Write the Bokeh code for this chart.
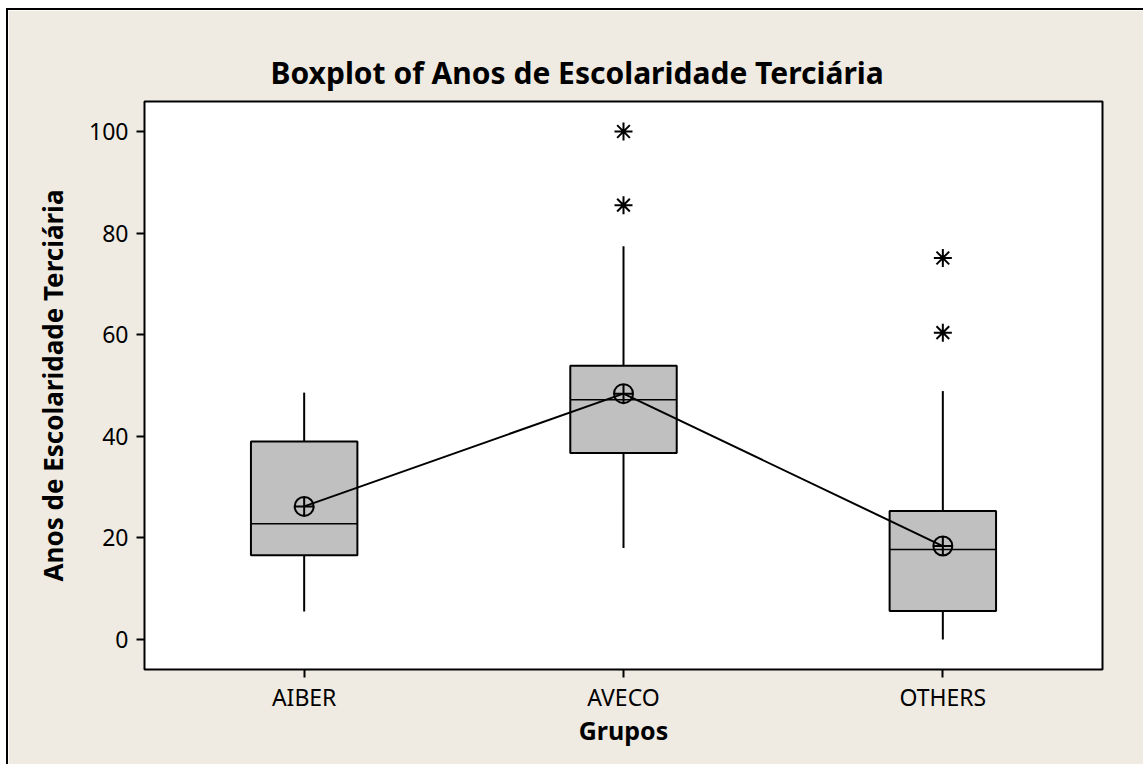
from bokeh.plotting import figure
from bokeh.models import FactorRange, Range1d, FixedTicker, ColumnDataSource
from bokeh.transform import dodge
from bokeh.embed import file_html
from bokeh.resources import INLINE

groups = ["AIBER", "AVECO", "OTHERS"]
q1 = [16.6, 36.7, 5.6]
medians = [22.8, 47.2, 17.7]
q3 = [39.0, 53.9, 25.3]
whisker_low = [5.5, 18.0, 0.0]
whisker_high = [48.6, 77.4, 48.9]
means = [26.2, 48.4, 18.4]
outlier_groups = ["AVECO", "AVECO", "OTHERS", "OTHERS"]
outlier_values = [100.0, 85.5, 75.1, 60.4]
y_ticks = [0, 20, 40, 60, 80, 100]

BG = "#EFEBE2"
FONT = "Noto Sans"

p = figure(
    width=1137, height=756,
    x_range=FactorRange(factors=groups, range_padding=0),
    y_range=Range1d(-5.9, 105.9),
    output_backend="svg", toolbar_location=None,
    min_border_left=136, min_border_right=43, min_border_top=91, min_border_bottom=97,
)
p.styles = {"border-left": "2px solid black", "border-top": "2px solid black",
            "margin-left": "6px", "margin-top": "8px"}
p.background_fill_color = "white"
p.border_fill_color = BG
p.outline_line_color = "black"
p.outline_line_width = 2
p.grid.visible = False

p.title.text = "Boxplot of Anos de Escolaridade Terciária"
p.title.align = "left"
p.title.offset = 126
p.title.text_font = FONT
p.title.text_font_size = "30px"
p.title.text_font_style = "bold"
p.title.text_color = "black"
p.title.standoff = 17

for ax in (p.xaxis, p.yaxis):
    ax.axis_line_color = None
    ax.major_tick_line_color = "black"
    ax.major_tick_line_width = 2
    ax.major_tick_out = 8
    ax.major_tick_in = 0
    ax.minor_tick_line_color = None
    ax.major_label_text_font = FONT
    ax.major_label_text_font_size = "23px"
    ax.major_label_text_color = "black"
    ax.axis_label_text_font = FONT
    ax.axis_label_text_font_style = "bold"
    ax.axis_label_text_color = "black"

p.yaxis.axis_label_text_font_size = "26px"
p.xaxis.axis_label_text_font_size = "25px"
p.yaxis.ticker = FixedTicker(ticks=y_ticks)
p.yaxis.major_label_standoff = 8
p.yaxis.axis_label = "Anos de Escolaridade Terciária"
p.yaxis.axis_label_standoff = 15
p.xaxis.axis_label = "Grupos"
p.xaxis.major_label_standoff = 3
p.xaxis.axis_label_standoff = -3

src = ColumnDataSource(dict(g=groups, q1=q1, med=medians, q3=q3,
                            lo=whisker_low, hi=whisker_high, mean=means))

p.segment(x0="g", y0="q3", x1="g", y1="hi", source=src, line_color="black", line_width=2)
p.segment(x0="g", y0="lo", x1="g", y1="q1", source=src, line_color="black", line_width=2)
p.vbar(x="g", width=1/3, bottom="q1", top="q3", source=src,
       fill_color="#C0C0C0", line_color="black", line_width=2)
p.segment(x0=dodge("g", -1/6, range=p.x_range), y0="med",
          x1=dodge("g", 1/6, range=p.x_range), y1="med",
          source=src, line_color="black", line_width=1.5)
p.line(x="g", y="mean", source=src, line_color="black", line_width=2)
p.scatter(x="g", y="mean", source=src, marker="circle_cross", size=19,
          fill_color=None, line_color="black", line_width=2)
p.scatter(x=outlier_groups, y=outlier_values, marker="asterisk", size=18,
          line_color="black", line_width=2)

open("out.html", "w").write(file_html(p, INLINE))
